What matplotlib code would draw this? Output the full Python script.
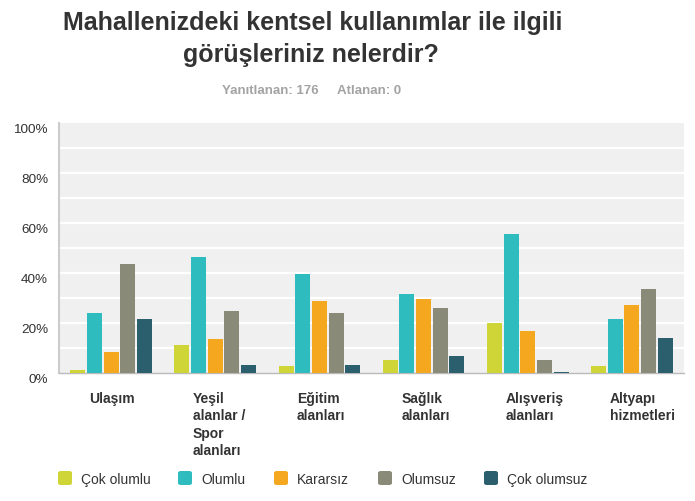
import matplotlib
matplotlib.use("Agg")
import matplotlib.pyplot as plt
import matplotlib.transforms as mtransforms
from matplotlib.patches import FancyBboxPatch
import numpy as np

plt.rcParams['font.family'] = ['Liberation Sans', 'DejaVu Sans']

categories = ["Ulaşım", "Yeşil\nalanlar /\nSpor\nalanları", "Eğitim\nalanları",
              "Sağlık\nalanları", "Alışveriş\nalanları", "Altyapı\nhizmetleri"]
series_names = ["Çok olumlu", "Olumlu", "Kararsız", "Olumsuz", "Çok olumsuz"]
cok_olumlu = [1.1, 11.4, 2.8, 5.1, 19.9, 2.8]
olumlu = [23.9, 46.6, 39.8, 31.8, 55.7, 21.6]
kararsiz = [8.5, 13.6, 29.0, 29.5, 17.0, 27.3]
olumsuz = [43.8, 25.0, 23.9, 26.1, 5.1, 33.5]
cok_olumsuz = [21.6, 3.4, 3.4, 6.8, 0.6, 14.2]
yticks = [0, 20, 40, 60, 80, 100]
ytick_labels = ["0%", "20%", "40%", "60%", "80%", "100%"]

colors = ["#cfd536", "#2ebcbf", "#f5a81f", "#8a8a79", "#2c5f6e"]
values = [cok_olumlu, olumlu, kararsiz, olumsuz, cok_olumsuz]

W, H = 695, 502
fig = plt.figure(figsize=(W / 100, H / 100), dpi=100)
ax_left, ax_right, ax_top, ax_bot = 59, 684, 124, 374
ax = fig.add_axes([ax_left / W, (H - ax_bot) / H, (ax_right - ax_left) / W, (ax_bot - ax_top) / H])
ax.set_facecolor("#f0f0f0")

x = np.arange(len(categories))
pitch = 0.16
bw = 0.145
for i, (vals, c) in enumerate(zip(values, colors)):
    ax.bar(x + (i - 2) * pitch, vals, width=bw, color=c, zorder=3)

ax.set_xlim(-0.5, len(categories) - 0.5)
ax.set_ylim(0, 100)
ax.set_yticks(yticks)
ax.set_yticklabels([])
for gy in range(10, 100, 10):
    ax.axhline(gy, color="white", lw=1.6, zorder=1)
ax.tick_params(axis='y', length=0)
ax.tick_params(axis='x', length=0)
ax.set_xticks([])
for s in ["top", "right"]:
    ax.spines[s].set_visible(False)
ax.spines["left"].set_color("#cccccc")
ax.spines["left"].set_linewidth(1.5)
ax.spines["bottom"].set_color("#bbbbbb")
ax.spines["bottom"].set_linewidth(1.0)

# y tick labels, drawn slightly below their gridline as in the reference
ytrans = mtransforms.blended_transform_factory(ax.transAxes, ax.transData) + \
    mtransforms.ScaledTranslation(-0.11, -0.06, fig.dpi_scale_trans)
for yv, lab in zip(yticks, ytick_labels):
    ax.text(0, yv, lab, transform=ytrans, ha="right", va="center",
            fontsize=9.7, color="#333333")

trans = mtransforms.blended_transform_factory(ax.transData, ax.transAxes)
for xi, lab in zip(x, categories):
    ax.text(xi - 0.215, -0.072, lab, transform=trans, ha="left", va="top",
            fontsize=10, fontweight="bold", color="#333333", linespacing=1.3)

fig.text(313 / W, 1 - 30 / H, "Mahallenizdeki kentsel kullanımlar ile ilgili",
         ha="center", va="baseline", fontsize=18, fontweight="bold", color="#333333")
fig.text(311 / W, 1 - 62 / H, "görüşleriniz nelerdir?",
         ha="center", va="baseline", fontsize=18, fontweight="bold", color="#333333")
fig.text(270 / W, 1 - 94 / H, "Yanıtlanan: 176", ha="center", va="baseline",
         fontsize=9.5, fontweight="bold", color="#a3a3a3")
fig.text(369 / W, 1 - 94 / H, "Atlanan: 0", ha="center", va="baseline",
         fontsize=9.5, fontweight="bold", color="#a3a3a3")

legend_x = [58, 178, 274, 378, 484]
for lx, name, c in zip(legend_x, series_names, colors):
    p = FancyBboxPatch(((lx) / W, 1 - 486 / H), 14 / W, 14 / H,
                       boxstyle="round,pad=0,rounding_size=0.004",
                       transform=fig.transFigure, facecolor=c, edgecolor="none")
    fig.patches.append(p)
    fig.text((lx + 23) / W, 1 - 484 / H, name, ha="left", va="baseline",
             fontsize=10, color="#333333")

fig.savefig("out.png", dpi=100)
